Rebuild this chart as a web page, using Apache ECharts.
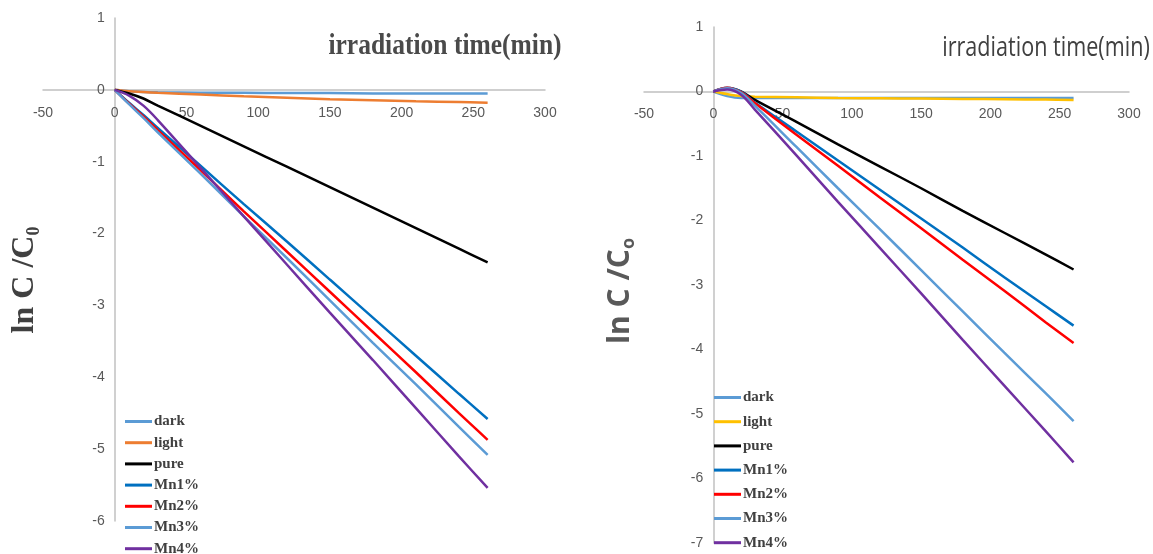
<!DOCTYPE html>
<html>
<head>
<meta charset="utf-8">
<style>
  html, body { margin: 0; padding: 0; background: #fff; }
  #left, #right { position: absolute; top: 0; height: 554px; }
  #left { left: 0; width: 580px; }
  #right { left: 580px; width: 573px; }
</style>
<script src="https://cdn.jsdelivr.net/npm/echarts@6/dist/echarts.min.js"></script>
</head>
<body>
<div id="left"></div>
<div id="right"></div>
<script>
const seriesNames = ['dark', 'light', 'pure', 'Mn1%', 'Mn2%', 'Mn3%', 'Mn4%']
const xMin = -50
const xMax = 300
const xStep = 50

// left panel
const timesL = [0, 10, 20, 30, 60, 90, 120, 150, 180, 210, 240, 260]
const darkL = [0, -0.02, -0.03, -0.035, -0.04, -0.04, -0.045, -0.045, -0.05, -0.05, -0.05, -0.05]
const lightL = [0, -0.02, -0.03, -0.04, -0.065, -0.09, -0.11, -0.13, -0.145, -0.16, -0.17, -0.18]
const pureL = [0, -0.05, -0.12, -0.22, -0.5, -0.785, -1.07, -1.355, -1.64, -1.925, -2.21, -2.4]
const mn1L = [0, -0.18, -0.35, -0.53, -1.06, -1.59, -2.11, -2.64, -3.17, -3.7, -4.23, -4.58]
const mn2L = [0, -0.19, -0.37, -0.56, -1.12, -1.69, -2.25, -2.81, -3.37, -3.93, -4.5, -4.87]
const mn3L = [0, -0.2, -0.39, -0.59, -1.17, -1.76, -2.34, -2.93, -3.52, -4.1, -4.69, -5.08]
const mn4L = [0, -0.08, -0.22, -0.42, -1.09, -1.76, -2.43, -3.1, -3.76, -4.43, -5.1, -5.54]
const colorsL = ['#5B9BD5', '#ED7D31', '#000000', '#0070C0', '#FF0000', '#5B9BD5', '#7030A0']

// right panel
const timesR = [0, 10, 20, 30, 60, 90, 120, 150, 180, 210, 240, 260]
const darkR = [0, -0.07, -0.1, -0.1, -0.1, -0.1, -0.1, -0.1, -0.1, -0.1, -0.1, -0.1]
const lightR = [0, -0.04, -0.07, -0.08, -0.09, -0.1, -0.105, -0.11, -0.115, -0.12, -0.125, -0.13]
const pureR = [0, 0.05, 0, -0.13, -0.47, -0.82, -1.16, -1.5, -1.85, -2.19, -2.53, -2.76]
const mn1R = [0, 0.06, 0, -0.17, -0.62, -1.07, -1.52, -1.97, -2.42, -2.88, -3.33, -3.63]
const mn2R = [0, 0.06, -0.01, -0.18, -0.67, -1.15, -1.64, -2.12, -2.61, -3.09, -3.58, -3.9]
const mn3R = [0, 0.05, -0.02, -0.22, -0.86, -1.5, -2.13, -2.77, -3.41, -4.05, -4.68, -5.11]
const mn4R = [0, 0.03, -0.05, -0.28, -0.99, -1.71, -2.42, -3.13, -3.85, -4.56, -5.27, -5.75]
const colorsR = ['#5B9BD5', '#FFC000', '#000000', '#0070C0', '#FF0000', '#5B9BD5', '#7030A0']

const labelFont = "'Liberation Sans Narrow', 'Liberation Sans', sans-serif"

function buildSeries(times, lists, colors) {
  return lists.map((vals, i) => ({
    type: 'line',
    name: seriesNames[i],
    color: colors[i],
    data: vals.map((v, j) => [times[j], v]),
    smooth: 0.35,
    showSymbol: false,
    lineStyle: { width: 2.5, color: colors[i] }
  }))
}

function axisCommon() {
  return {
    type: 'value',
    splitLine: { show: false },
    axisTick: { show: false },
    axisLine: { show: true, onZero: false, lineStyle: { color: '#c0c0c0', width: 1.5 } },
    axisLabel: { color: '#595959', fontSize: 14, fontFamily: labelFont }
  }
}

function buildOption(cfg) {
  const g = cfg.grid
  // axes cross at (0, 0): shift them in from the grid edges
  const x = axisCommon()
  Object.assign(x, {
    min: xMin, max: xMax, interval: xStep, position: 'bottom',
    offset: -g.height * (0 - cfg.yMin) / (1 - cfg.yMin)
  })
  x.axisLabel = Object.assign({}, x.axisLabel, { margin: 16 })
  const y = axisCommon()
  Object.assign(y, {
    min: cfg.yMin, max: 1, interval: 1, position: 'left',
    offset: -g.width * (0 - xMin) / (xMax - xMin)
  })
  y.axisLabel = Object.assign({}, y.axisLabel, { margin: 10 })
  return {
    animation: false,
    grid: g,
    xAxis: x,
    yAxis: y,
    legend: {
      orient: 'vertical',
      left: cfg.legend.left,
      top: cfg.legend.top,
      height: 220,
      padding: 0,
      itemGap: cfg.legend.gap,
      itemWidth: 27,
      itemHeight: 3,
      icon: 'rect',
      data: seriesNames,
      textStyle: {
        fontFamily: 'Liberation Serif',
        fontWeight: 'bold',
        fontSize: 15,
        lineHeight: 15,
        color: '#404040',
        padding: [0, 0, 0, -3]
      }
    },
    graphic: cfg.graphic,
    series: buildSeries(cfg.times, cfg.lists, cfg.colors)
  }
}

const leftChart = echarts.init(document.getElementById('left'))
leftChart.setOption(buildOption({
  yMin: -6,
  grid: { left: 43, top: 18, width: 502, height: 503 },
  legend: { left: 125, top: 414, gap: 6.2 },
  times: timesL,
  lists: [darkL, lightL, pureL, mn1L, mn2L, mn3L, mn4L],
  colors: colorsL,
  graphic: [
    {
      type: 'text', x: 445, y: 47, scaleX: 0.88,
      style: {
        text: 'irradiation time(min)', fontFamily: 'Liberation Serif', fontWeight: 'bold',
        fontSize: 29, fill: '#4a4a4a', align: 'center', verticalAlign: 'middle'
      }
    },
    {
      type: 'text', x: 25, y: 280, rotation: Math.PI / 2,
      style: {
        text: '{a|ln C /C}{b|0}', align: 'center', verticalAlign: 'middle',
        rich: {
          a: { fontFamily: 'Liberation Serif', fontWeight: 'bold', fontSize: 32, lineHeight: 36, fill: '#404040' },
          b: { fontFamily: 'Liberation Serif', fontWeight: 'bold', fontSize: 18, lineHeight: 14, verticalAlign: 'bottom', fill: '#404040' }
        }
      }
    }
  ]
}))

const rightChart = echarts.init(document.getElementById('right'))
rightChart.setOption(buildOption({
  yMin: -7,
  grid: { left: 64, top: 27, width: 485, height: 516 },
  legend: { left: 134, top: 390, gap: 9.2 },
  times: timesR,
  lists: [darkR, lightR, pureR, mn1R, mn2R, mn3R, mn4R],
  colors: colorsR,
  graphic: [
    {
      type: 'text', x: 466, y: 48, scaleX: 0.8,
      style: {
        text: 'irradiation time(min)', fontFamily: 'Open Sans',
        fontSize: 27, fill: '#404040', align: 'center', verticalAlign: 'middle'
      }
    },
    {
      type: 'text', x: 40, y: 291, rotation: Math.PI / 2,
      style: {
        text: '{a|ln C /C}{b|o}', align: 'center', verticalAlign: 'middle',
        rich: {
          a: { fontFamily: 'Open Sans', fontWeight: 'bold', fontSize: 30, lineHeight: 36, fill: '#595959' },
          b: { fontFamily: 'Open Sans', fontWeight: 'bold', fontSize: 18, lineHeight: 14, verticalAlign: 'bottom', fill: '#595959' }
        }
      }
    }
  ]
}))
</script>
</body>
</html>
